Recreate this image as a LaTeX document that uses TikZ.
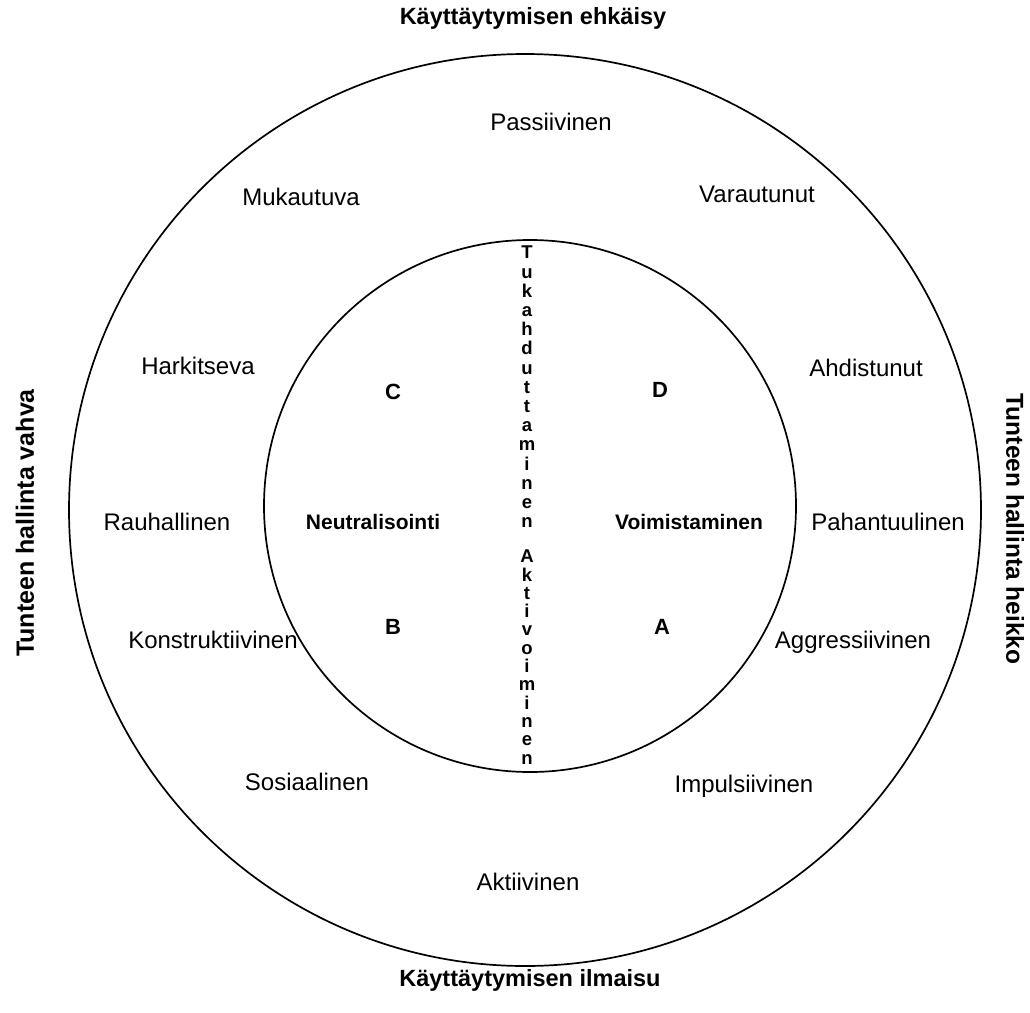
\documentclass[tikz,border=0pt]{standalone}
\usepackage{fontspec}
\setmainfont{Liberation Sans}
\begin{document}
\begin{tikzpicture}[x=1pt,y=-1pt,
  ring/.style={circle,draw,line width=1.7pt,inner sep=0pt},
  lab/.style={font=\fontsize{24}{24}\selectfont,inner sep=0pt},
  inner/.style={font=\bfseries\fontsize{21}{21}\selectfont,inner sep=0pt},
  quad/.style={font=\bfseries\fontsize{22}{22}\selectfont,inner sep=0pt},
  title/.style={font=\bfseries\fontsize{23.5}{23.5}\selectfont,inner sep=0pt},
  stack/.style={font=\bfseries\fontsize{18.5}{19.2}\selectfont,align=center,inner sep=0pt}]
\useasboundingbox (0,0) rectangle (1030,1012);
\node[ring,minimum size=912pt] (outer) at (525,510) {};
\node[ring,minimum size=532pt] (innerc) at (530,506) {};
% titles
\node[title] (top) at (533,18) {Käyttäytymisen ehkäisy};
\node[title] (bottom) at (530,980) {Käyttäytymisen ilmaisu};
\node[title,font=\bfseries\fontsize{25}{25}\selectfont,rotate=90] (left) at (25,523) {Tunteen hallinta vahva};
\node[title,font=\bfseries\fontsize{24.5}{24.5}\selectfont,rotate=-90] (right) at (1015,529) {Tunteen hallinta heikko};
% outer ring labels
\node[lab] (passiivinen) at (551,122) {Passiivinen};
\node[lab] (mukautuva) at (301,197) {Mukautuva};
\node[lab] (varautunut) at (757,194) {Varautunut};
\node[lab] (harkitseva) at (198,366) {Harkitseva};
\node[lab] (ahdistunut) at (866,368) {Ahdistunut};
\node[lab] (rauhallinen) at (167,522) {Rauhallinen};
\node[lab] (pahantuulinen) at (888,522) {Pahantuulinen};
\node[lab] (konstruktiivinen) at (213,640) {Konstruktiivinen};
\node[lab] (aggressiivinen) at (853,642) {Aggressiivinen};
\node[lab] (sosiaalinen) at (307,782) {Sosiaalinen};
\node[lab] (impulsiivinen) at (744,786) {Impulsiivinen};
\node[lab] (aktiivinen) at (528,882) {Aktiivinen};
% inner labels
\node[inner] (neutralisointi) at (373,522) {Neutralisointi};
\node[inner] (voimistaminen) at (689,522) {Voimistaminen};
\node[quad] (C) at (393,392) {C};
\node[quad] (D) at (660,390) {D};
\node[quad] (B) at (393,627) {B};
\node[quad] (A) at (662,627) {A};
% vertical words
\node[stack] (tukahduttaminen) at (527,387) {T\\u\\k\\a\\h\\d\\u\\t\\t\\a\\m\\i\\n\\e\\n};
\node[stack,font=\bfseries\fontsize{18.5}{18.3}\selectfont] (aktivoiminen) at (527,657) {A\\k\\t\\i\\v\\o\\i\\m\\i\\n\\e\\n};
\end{tikzpicture}
\end{document}
